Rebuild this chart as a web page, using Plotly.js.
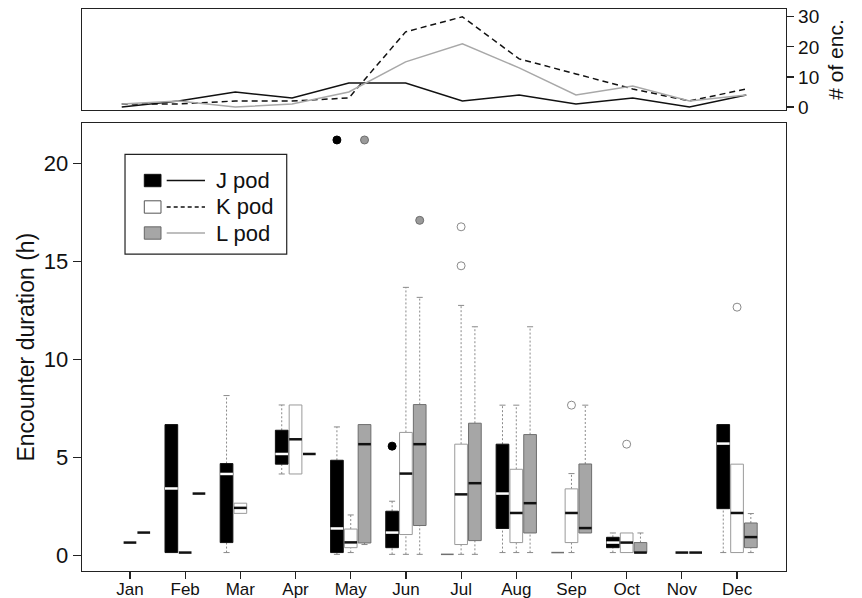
<!DOCTYPE html>
<html>
<head>
<meta charset="utf-8">
<script src="https://cdn.plot.ly/plotly-3.0.1.min.js"></script>
<style>html,body{margin:0;padding:0;background:#fff;}#chart{width:862px;height:598px;}</style>
</head>
<body>
<div id="chart"></div>
<script>
// ---- data ----
const months = ['Jan','Feb','Mar','Apr','May','Jun','Jul','Aug','Sep','Oct','Nov','Dec'];
const monthNum = [1,2,3,4,5,6,7,8,9,10,11,12];

// encounter counts (top panel)
const jCount = [0,2,5,3,8,8,2,4,1,3,0,4];
const kCount = [1,1,2,2,3,25,30,16,11,6,2,6];
const lCount = [1,2,0,1,5,15,21,13,4,7,2,4];

// J pod box statistics (hours)
const jLow  = [null,0.14,0.14,4.15,0.05,0.05,0.05,0.14,0.14,0.14,null,0.14];
const jQ1   = [null,0.14,0.65,4.65,0.14,0.39,0.05,1.37,0.14,0.39,null,2.38];
const jMed  = [null,3.41,4.15,5.17,1.37,1.16,0.05,3.15,0.14,0.65,null,5.70];
const jQ3   = [null,6.67,4.68,6.38,4.85,2.25,0.05,5.67,0.14,0.92,null,6.67];
const jHigh = [null,6.67,8.15,7.67,6.55,2.76,0.05,7.66,0.14,1.14,null,6.67];
const jOutMonth = [5,6];
const jOutVal   = [21.19,5.57];

// K pod box statistics
const kLow  = [0.65,0.14,2.14,4.15,0.14,0.05,0.05,0.14,0.14,0.14,0.14,0.14];
const kQ1   = [0.65,0.14,2.14,4.15,0.39,1.06,0.55,0.65,0.65,0.14,0.14,0.14];
const kMed  = [0.65,0.14,2.42,5.92,0.66,4.17,3.11,2.16,2.16,0.65,0.14,2.16];
const kQ3   = [0.65,0.14,2.66,7.67,1.34,6.27,5.67,4.39,3.39,1.14,0.14,4.65];
const kHigh = [0.65,0.14,2.66,7.67,2.06,13.67,12.75,7.66,4.17,1.14,0.14,4.65];
const kOutMonth = [7,7,9,10,12];
const kOutVal   = [14.77,16.76,7.66,5.67,12.66];

// L pod box statistics
const lLow  = [1.16,3.15,null,5.17,0.55,0.05,0.05,0.14,1.14,0.14,0.14,0.14];
const lQ1   = [1.16,3.15,null,5.17,0.63,1.52,0.75,1.14,1.14,0.14,0.14,0.39];
const lMed  = [1.16,3.15,null,5.17,5.67,5.67,3.68,2.66,1.39,0.14,0.14,0.93];
const lQ3   = [1.16,3.15,null,5.17,6.67,7.69,6.74,6.16,4.66,0.65,0.14,1.65];
const lHigh = [1.16,3.15,null,5.17,6.67,13.16,11.66,11.66,7.66,1.14,0.14,2.13];
const lOutMonth = [5,6];
const lOutVal   = [21.19,17.09];

// ---- styling / geometry ----
const FONT = 'Liberation Sans, Arial, Helvetica, sans-serif';
const HW = 0.115;   // half box width (months)
const CW = 0.055;   // half cap width
const WHISK = '#8a8a8a';

function podTraces(off, low, q1, med, q3, high, outM, outV, st) {
  const bx=[],by=[],mx=[],my=[],fx=[],fy=[],wx=[],wy=[],cx=[],cy=[];
  for (let i=0;i<monthNum.length;i++) {
    if (q1[i]===null) continue;
    const c = monthNum[i] + off;
    if (q3[i] > q1[i]) {
      bx.push(c-HW,c+HW,c+HW,c-HW,c-HW,null);
      by.push(q1[i],q1[i],q3[i],q3[i],q1[i],null);
      mx.push(c-HW,c+HW,null); my.push(med[i],med[i],null);
    } else {
      fx.push(c-HW,c+HW,null); fy.push(med[i],med[i],null);
    }
    if (high[i] > q3[i]) {
      wx.push(c,c,null); wy.push(q3[i],high[i],null);
      cx.push(c-CW,c+CW,null); cy.push(high[i],high[i],null);
    }
    if (low[i] < q1[i]) {
      wx.push(c,c,null); wy.push(low[i],q1[i],null);
      cx.push(c-CW,c+CW,null); cy.push(low[i],low[i],null);
    }
  }
  const base = {xaxis:'x', yaxis:'y', showlegend:false, hoverinfo:'skip'};
  return [
    Object.assign({type:'scatter', mode:'lines', x:wx, y:wy, line:{color:WHISK,width:1,dash:'2px,2px'}}, base),
    Object.assign({type:'scatter', mode:'lines', x:cx, y:cy, line:{color:WHISK,width:1}}, base),
    Object.assign({type:'scatter', mode:'lines', x:bx, y:by, fill:'toself', fillcolor:st.fill, line:{color:st.border,width:1}}, base),
    Object.assign({type:'scatter', mode:'lines', x:mx, y:my, line:{color:st.med,width:2.5}}, base),
    Object.assign({type:'scatter', mode:'lines', x:fx, y:fy, line:{color:st.flat,width:st.flatW}}, base),
    Object.assign({type:'scatter', mode:'markers', x:outM.map(m=>m+off), y:outV,
      marker:{size:8, color:st.outFill, line:{color:st.outLine,width:1}}}, base)
  ];
}

const traces = [].concat(
  podTraces(-0.25, jLow,jQ1,jMed,jQ3,jHigh,jOutMonth,jOutVal,
    {fill:'#000000',border:'#111111',med:'#ffffff',flat:'#707070',flatW:1.5,outFill:'#000000',outLine:'#000000'}),
  podTraces(0, kLow,kQ1,kMed,kQ3,kHigh,kOutMonth,kOutVal,
    {fill:'#ffffff',border:'#9a9a9a',med:'#111111',flat:'#111111',flatW:2.5,outFill:'rgba(255,255,255,0)',outLine:'#8a8a8a'}),
  podTraces(0.25, lLow,lQ1,lMed,lQ3,lHigh,lOutMonth,lOutVal,
    {fill:'#a6a6a6',border:'#6e6e6e',med:'#111111',flat:'#111111',flatW:2.5,outFill:'#9a9a9a',outLine:'#6e6e6e'})
);

// top panel lines
traces.push({type:'scatter', mode:'lines', x:monthNum, y:jCount, xaxis:'x2', yaxis:'y2',
  line:{color:'#111111',width:1.5}, showlegend:false, hoverinfo:'skip'});
traces.push({type:'scatter', mode:'lines', x:monthNum, y:kCount, xaxis:'x2', yaxis:'y2',
  line:{color:'#111111',width:1.5,dash:'6px,4px'}, showlegend:false, hoverinfo:'skip'});
traces.push({type:'scatter', mode:'lines', x:monthNum, y:lCount, xaxis:'x2', yaxis:'y2',
  line:{color:'#a8a8a8',width:1.5}, showlegend:false, hoverinfo:'skip'});

// legend geometry (paper coords)
const legY = [0.6948, 0.6477, 0.6014];
const legNames = ['J pod','K pod','L pod'];
const legFill = ['#000000','#ffffff','#a6a6a6'];
const legBorder = ['#111111','#555555','#666666'];
const legLine = [{color:'#111111',width:1.3},{color:'#111111',width:1.3,dash:'4px,3px'},{color:'#a8a8a8',width:1.3}];

const shapes = [{type:'rect', xref:'paper', yref:'paper', x0:0.0611, x1:0.2908, y0:0.564, y1:0.7415,
  line:{color:'#222',width:1.2}, fillcolor:'rgba(0,0,0,0)'}];
const annotations = [];
for (let i=0;i<3;i++) {
  shapes.push({type:'rect', xref:'paper', yref:'paper', x0:0.0885, x1:0.1122, y0:legY[i]-0.011, y1:legY[i]+0.011,
    fillcolor:legFill[i], line:{color:legBorder[i],width:1}});
  shapes.push({type:'line', xref:'paper', yref:'paper', x0:0.1203, x1:0.1747, y0:legY[i], y1:legY[i], line:legLine[i]});
  annotations.push({xref:'paper', yref:'paper', x:0.187, y:legY[i], xanchor:'left', yanchor:'middle',
    text:legNames[i], showarrow:false, font:{family:FONT,size:22,color:'#111'}});
}

const layout = {
  width:862, height:598,
  margin:{l:82, r:76, t:9, b:27},
  paper_bgcolor:'#ffffff', plot_bgcolor:'#ffffff',
  font:{family:FONT, color:'#111111'},
  showlegend:false,
  xaxis:{domain:[0,1], anchor:'y', range:[0.131,12.887], tickmode:'array', tickvals:monthNum, ticktext:months,
    ticks:'outside', ticklen:7, tickwidth:1.2, tickcolor:'#222', showline:true, mirror:true, linecolor:'#222', linewidth:1.3,
    showgrid:false, zeroline:false, tickfont:{size:17, family:FONT, color:'#111'}, ticklabelstandoff:-5},
  yaxis:{domain:[0,0.7966], anchor:'x', range:[-0.80,22.04], tickmode:'array', tickvals:[0,5,10,15,20],
    ticks:'outside', ticklen:8, tickwidth:1.2, tickcolor:'#222', showline:true, mirror:true, linecolor:'#222', linewidth:1.3,
    showgrid:false, zeroline:false, tickfont:{size:22, family:FONT, color:'#111'},
    title:{text:'Encounter duration (h)', font:{size:23, family:FONT, color:'#111'}, standoff:2}},
  xaxis2:{domain:[0,1], anchor:'y2', range:[0.3,12.7], showticklabels:false, ticks:'',
    showline:true, mirror:true, linecolor:'#222', linewidth:1.3, showgrid:false, zeroline:false},
  yaxis2:{domain:[0.8203,1], anchor:'x2', side:'right', range:[-1,32.6], tickmode:'array', tickvals:[0,10,20,30],
    ticks:'outside', ticklen:7, tickwidth:1.2, tickcolor:'#222', showline:true, mirror:true, linecolor:'#222', linewidth:1.3,
    showgrid:false, zeroline:false, tickfont:{size:19, family:FONT, color:'#111'},
    title:{text:'# of enc.', font:{size:21, family:FONT, color:'#111'}, standoff:10}},
  shapes:shapes,
  annotations:annotations
};

Plotly.newPlot('chart', traces, layout, {displayModeBar:false, staticPlot:true});
</script>
</body>
</html>
